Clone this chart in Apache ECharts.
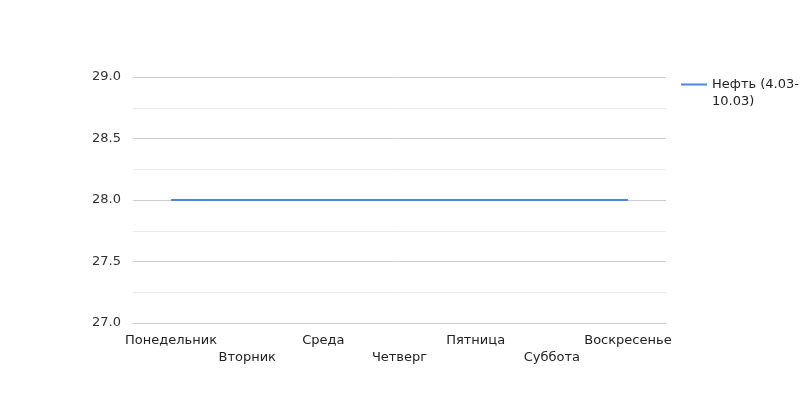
<!DOCTYPE html>
<html><head><meta charset="utf-8">
<script src="https://cdn.jsdelivr.net/npm/echarts@6/dist/echarts.min.js"></script>
<style>html,body{margin:0;padding:0;background:#fff}#c{width:800px;height:400px}</style>
</head><body><div id="c"></div>
<script>
var categories = ['Понедельник','Вторник','Среда','Четверг','Пятница','Суббота','Воскресенье'];
var seriesName = 'Нефть (4.03-10.03)';
var values = [28, 28, 28, 28, 28, 28, 28];
var yMin = 27, yMax = 29, yStep = 0.5;

var chart = echarts.init(document.getElementById('c'), null, {renderer:'canvas'});
var font = 'DejaVu Sans';
chart.setOption({
  animation:false,
  textStyle:{fontFamily:font},
  grid:{left:133, right:134, top:77, bottom:77, containLabel:false},
  legend:{
    orient:'vertical', top:71, left:676,
    icon:'path://M0,7.5H26V9.5H0Z M0,0H0.01V0.01H0Z M0,34H0.01V33.99H0Z',
    itemWidth:26, itemHeight:34, itemGap:5,
    formatter:function(n){ return n.replace('-', '-\n'); },
    textStyle:{fontFamily:font, fontSize:13, color:'#222', lineHeight:17},
    data:[seriesName]
  },
  xAxis:{
    type:'category', data:categories, boundaryGap:true,
    axisLine:{show:true, lineStyle:{color:'#ccc'}},
    axisTick:{show:false},
    axisLabel:{interval:0, fontFamily:font, fontSize:13, color:'#222', margin:9, lineHeight:17,
      formatter:function(v, i){ return i % 2 === 1 ? '\n' + v : v; }}
  },
  yAxis:{
    type:'value', min:yMin, max:yMax, interval:yStep,
    axisLine:{show:false}, axisTick:{show:false},
    axisLabel:{fontFamily:font, fontSize:13, color:'#333', margin:12,
      formatter:function(v){ return v.toFixed(1); }},
    splitLine:{lineStyle:{color:'#ccc'}},
    minorTick:{show:false, splitNumber:2},
    minorSplitLine:{show:true, lineStyle:{color:'#ebebeb'}}
  },
  series:[{
    name:seriesName, type:'line', data:values, symbol:'none',
    lineStyle:{color:'#4a86e8', width:2}, itemStyle:{color:'#4a86e8'}
  }]
});
</script></body></html>
